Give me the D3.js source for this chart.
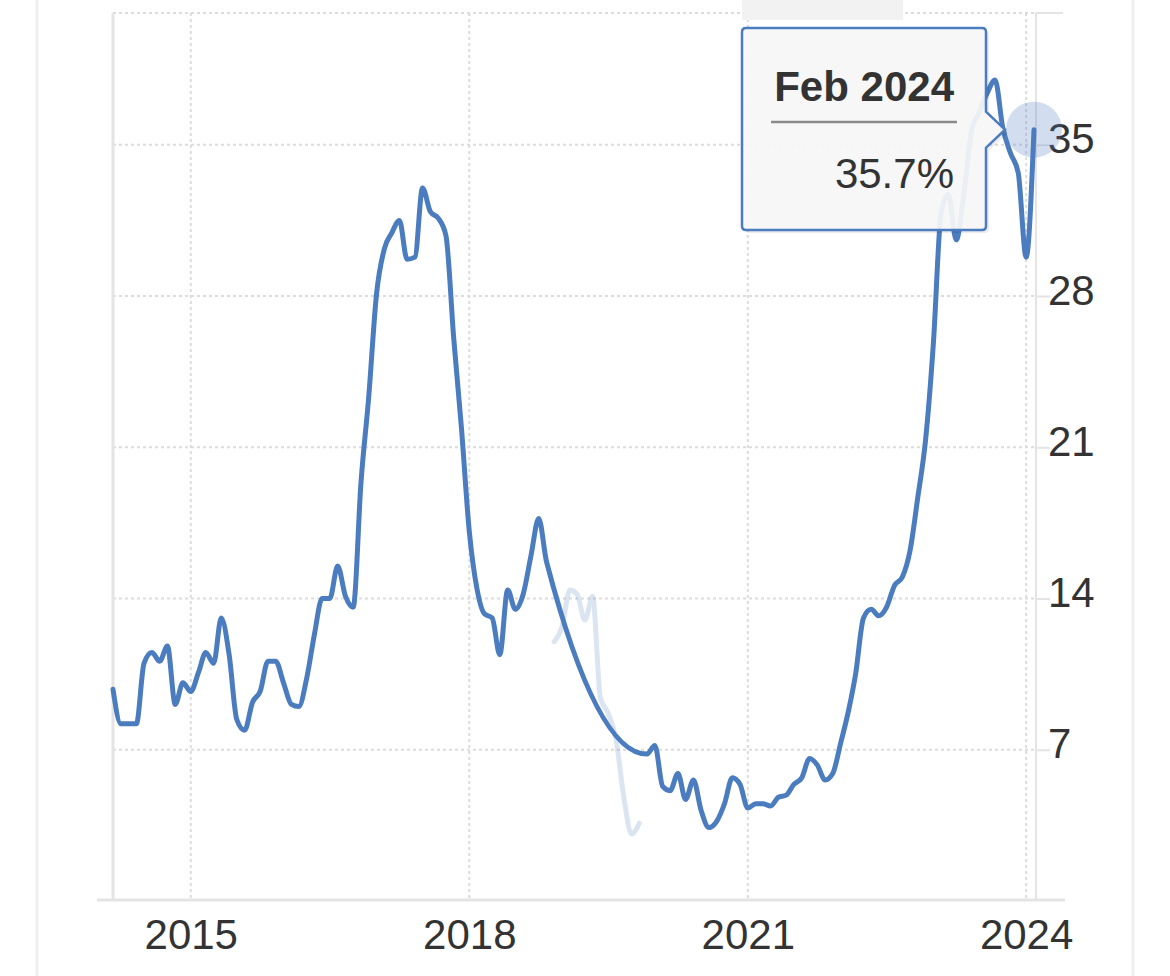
<!DOCTYPE html>
<html>
<head>
<meta charset="utf-8">
<script src="https://cdn.jsdelivr.net/npm/d3@7"></script>
<style>
  html, body { margin: 0; padding: 0; background: #fff; }
  svg { display: block; font-family: "Liberation Sans", Arial, Helvetica, sans-serif; }
</style>
</head>
<body>
<svg id="chart" width="1170" height="976"></svg>
<script>
// ---------------- DATA ----------------
// Monthly inflation rate (%), first value = Mar 2014
const mainStart = [2014, 3];
const inflation = [
  // 2014 Mar–Dec
  9.8, 8.2, 8.2, 8.2, 11.0, 11.5, 11.1, 11.8, 9.1, 10.1,
  // 2015
  9.7, 10.6, 11.5, 11.0, 13.1, 11.4, 8.4, 7.9, 9.2, 9.7, 11.1, 11.1,
  // 2016
  10.1, 9.1, 9.0, 10.3, 12.3, 14.0, 14.0, 15.5, 14.1, 13.6, 19.4, 23.3,
  // 2017
  28.1, 30.2, 30.9, 31.5, 29.7, 29.8, 33.0, 31.9, 31.6, 30.8, 26.0, 21.9,
  // 2018
  17.1, 14.4, 13.3, 13.1, 11.4, 14.4, 13.5, 14.2, 16.0, 17.7, 15.7, null,
  // 2019 (not drawn in the main line)
  null, null, null, null, null, null, null, null, null, null, null, 6.8,
  // 2020
  7.2, 5.3, 5.1, 5.9, 4.7, 5.6, 4.2, 3.4, 3.7, 4.5, 5.7, 5.4,
  // 2021
  4.3, 4.5, 4.5, 4.4, 4.8, 4.9, 5.4, 5.7, 6.6, 6.3, 5.6, 5.9,
  // 2022
  7.3, 8.8, 10.5, 13.1, 13.5, 13.2, 13.6, 14.6, 15.0, 16.2, 18.7, 21.3,
  // 2023
  25.8, 31.9, 32.7, 30.6, 32.7, 35.7, 36.5, 37.4, 38.0, 35.8, 34.6, 33.7,
  // 2024
  29.8, 35.7
];

// Faded segment, first value = Dec 2018
const ghostStart = [2018, 12];
const ghostValues = [12.0, 12.7, 14.4, 14.2, 13.0, 14.1, 9.4, 8.7, 7.5, 4.8, 3.1, 3.6];

const xTickYears = [2015, 2018, 2021, 2024];
const yTickValues = [7, 14, 21, 28, 35];

const tooltipTitle = "Feb 2024";
const tooltipValue = "35.7%";

// ---------------- BUILD ----------------
(function () {
const toSeries = (start, vals) => vals.map((v, i) => ({
  date: new Date(start[0], start[1] - 1 + i, 1), value: v
}));
const mainSeries = toSeries(mainStart, inflation).filter(d => d.value !== null);
const ghostSeries = toSeries(ghostStart, ghostValues);
const lastPoint = mainSeries[mainSeries.length - 1];

const svg = d3.select("#chart");
const W = 1170, H = 976;
const pLeft = 113, pRight = 1036, pTop = 13, pBottom = 901;

const x = d3.scaleTime()
  .domain([new Date(mainStart[0], mainStart[1] - 1, 1), lastPoint.date])
  .range([pLeft, 1034]);
const y = d3.scaleLinear().domain([0, 41.1]).range([pBottom, pTop]);

const blue = "#4a7cbf";
const gridColor = "#dcdcdc";
const axisColor = "#e4e4e4";
const textColor = "#333";

// outer frame lines
svg.append("line").attr("x1", 37).attr("x2", 37).attr("y1", 0).attr("y2", H)
  .attr("stroke", "#efefef").attr("stroke-width", 3);
svg.append("line").attr("x1", 1133).attr("x2", 1133).attr("y1", 0).attr("y2", H)
  .attr("stroke", "#efefef").attr("stroke-width", 3);

// horizontal grid (dotted) incl. top line
const hGrid = svg.append("g");
[...yTickValues, y.domain()[1]].forEach(v => {
  hGrid.append("line")
    .attr("x1", pLeft).attr("x2", pRight)
    .attr("y1", y(v)).attr("y2", y(v))
    .attr("stroke", gridColor).attr("stroke-width", 2)
    .attr("stroke-dasharray", "3,3");
});
// vertical grid (dotted)
xTickYears.forEach(yr => {
  const xx = x(new Date(yr, 0, 1));
  svg.append("line")
    .attr("x1", xx).attr("x2", xx).attr("y1", pTop).attr("y2", pBottom)
    .attr("stroke", gridColor).attr("stroke-width", 2)
    .attr("stroke-dasharray", "3,3");
});

// axes lines
svg.append("line").attr("x1", pLeft).attr("x2", pLeft).attr("y1", pTop).attr("y2", pBottom)
  .attr("stroke", axisColor).attr("stroke-width", 3);
svg.append("line").attr("x1", pRight).attr("x2", pRight).attr("y1", pTop).attr("y2", pBottom)
  .attr("stroke", axisColor).attr("stroke-width", 2);
svg.append("line").attr("x1", 97).attr("x2", 1065).attr("y1", 900).attr("y2", 900)
  .attr("stroke", axisColor).attr("stroke-width", 3);

// right y axis via d3 axis
const yAxis = d3.axisRight(y).tickValues(yTickValues).tickSize(14).tickPadding(0)
  .tickFormat(d3.format("d"));
const yG = svg.append("g").attr("transform", `translate(${pRight},0)`).call(yAxis);
yG.select(".domain").remove();
yG.selectAll(".tick line").attr("stroke", axisColor).attr("stroke-width", 2);
yG.selectAll(".tick text")
  .attr("x", 12).attr("dy", 0).attr("y", 8)
  .attr("fill", textColor).style("font-size", "42px")
  .style("font-family", "'Liberation Sans', Arial, sans-serif");
// top tick
svg.append("line").attr("x1", pRight).attr("x2", 1063).attr("y1", pTop).attr("y2", pTop)
  .attr("stroke", axisColor).attr("stroke-width", 2);

// bottom x axis via d3 axis
const xAxis = d3.axisBottom(x).tickValues(xTickYears.map(yr => new Date(yr, 0, 1)))
  .tickSize(0).tickPadding(0).tickFormat(d3.timeFormat("%Y"));
const xG = svg.append("g").attr("transform", `translate(0,${pBottom})`).call(xAxis);
xG.select(".domain").remove();
xG.selectAll(".tick text")
  .attr("y", 48).attr("dy", 0)
  .attr("fill", textColor).style("font-size", "42px")
  .style("font-family", "'Liberation Sans', Arial, sans-serif");

// lines
const line = d3.line().x(d => x(d.date)).y(d => y(d.value)).curve(d3.curveMonotoneX);
svg.append("path").datum(ghostSeries).attr("d", line)
  .attr("fill", "none").attr("stroke", blue).attr("stroke-opacity", 0.2)
  .attr("stroke-width", 5).attr("stroke-linejoin", "round").attr("stroke-linecap", "round");
svg.append("path").datum(mainSeries).attr("d", line)
  .attr("fill", "none").attr("stroke", blue)
  .attr("stroke-width", 5).attr("stroke-linejoin", "round").attr("stroke-linecap", "round");

// top gray tab
svg.append("rect").attr("x", 742).attr("y", 0).attr("width", 161).attr("height", 20)
  .attr("fill", "#f2f2f2");

// hover halo
svg.append("circle").attr("cx", x(lastPoint.date)).attr("cy", y(lastPoint.value)).attr("r", 28)
  .attr("fill", blue).attr("fill-opacity", 0.25);

// tooltip
const tt = svg.append("g");
const bx = 742, by = 28, bw = 244, bh = 202;
const tipX = x(lastPoint.date) - 29, tipY = y(lastPoint.value);
const shape = `M${bx + 4},${by} H${bx + bw - 4} Q${bx + bw},${by} ${bx + bw},${by + 4}
  V${tipY - 18} L${tipX},${tipY} L${bx + bw},${tipY + 18}
  V${by + bh - 4} Q${bx + bw},${by + bh} ${bx + bw - 4},${by + bh}
  H${bx + 4} Q${bx},${by + bh} ${bx},${by + bh - 4} V${by + 4} Q${bx},${by} ${bx + 4},${by} Z`;
tt.append("path").attr("d", shape).attr("transform", "translate(3,3)")
  .attr("fill", "#000").attr("fill-opacity", 0.07);
tt.append("path").attr("d", shape)
  .attr("fill", "#f7f7f7").attr("fill-opacity", 0.93)
  .attr("stroke", blue).attr("stroke-width", 2.5);
tt.append("text").attr("x", 954).attr("y", 101).attr("text-anchor", "end")
  .attr("fill", textColor).style("font-size", "42px").style("font-weight", "bold")
  .text(tooltipTitle);
tt.append("line").attr("x1", 771).attr("x2", 957).attr("y1", 122).attr("y2", 122)
  .attr("stroke", "#8a8a8a").attr("stroke-width", 2.5);
tt.append("text").attr("x", 954).attr("y", 188).attr("text-anchor", "end")
  .attr("fill", textColor).style("font-size", "42px")
  .text(tooltipValue);
})();
</script>
</body>
</html>
